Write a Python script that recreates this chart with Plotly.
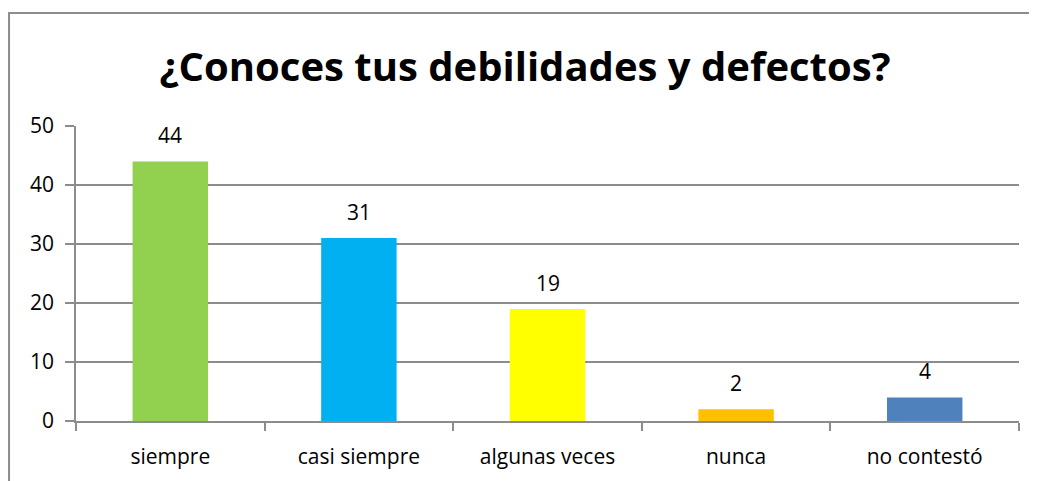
import plotly.graph_objects as go

categories = ["siempre", "casi siempre", "algunas veces", "nunca", "no contestó"]
values = [44, 31, 19, 2, 4]
colors = ["#92D050", "#00B0F0", "#FFFF00", "#FFC000", "#4F81BD"]
y_ticks = [0, 10, 20, 30, 40, 50]

fig = go.Figure()
fig.add_trace(go.Bar(
    x=categories,
    y=values,
    marker=dict(color=colors, line=dict(width=0)),
    width=0.4,
    cliponaxis=False,
))

# data labels a bit above each bar
for c, v in zip(categories, values):
    fig.add_annotation(
        x=c, y=v, text=str(v), showarrow=False,
        yanchor="bottom", yshift=10,
        font=dict(size=21, color="black"),
    )

grid = "#8c8c8c"
fig.update_layout(
    width=1029,
    height=473,
    margin=dict(l=68, r=18, t=118, b=60),
    paper_bgcolor="white",
    plot_bgcolor="white",
    font=dict(family="Open Sans", size=21, color="black"),
    title=dict(
        text="<b>¿Conoces tus debilidades y defectos?</b>",
        x=0.5025, xanchor="center",
        y=0.875, yanchor="middle",
        font=dict(size=40, color="black"),
    ),
    showlegend=False,
    xaxis=dict(
        showline=True, linecolor=grid, linewidth=1.5,
        ticks="outside", tickson="boundaries", ticklen=8,
        tickcolor=grid, tickwidth=1.5,
        showgrid=False,
        tickfont=dict(size=21),
        ticklabelstandoff=16,
    ),
    yaxis=dict(
        range=[0, 50],
        tickvals=y_ticks,
        showline=True, linecolor=grid, linewidth=1.5,
        ticks="outside", ticklen=9, tickcolor=grid, tickwidth=1.5,
        showgrid=True, gridcolor=grid, gridwidth=1.5,
        zeroline=False,
        tickfont=dict(size=21),
        ticklabelstandoff=7,
    ),
    shapes=[dict(
        type="rect", xref="paper", yref="paper",
        x0=-0.071, x1=1.05, y0=-0.3, y1=1.383,
        line=dict(color="#8c8c8c", width=2),
        fillcolor="rgba(0,0,0,0)",
        layer="below",
    )],
)

fig.write_html("out.html")
